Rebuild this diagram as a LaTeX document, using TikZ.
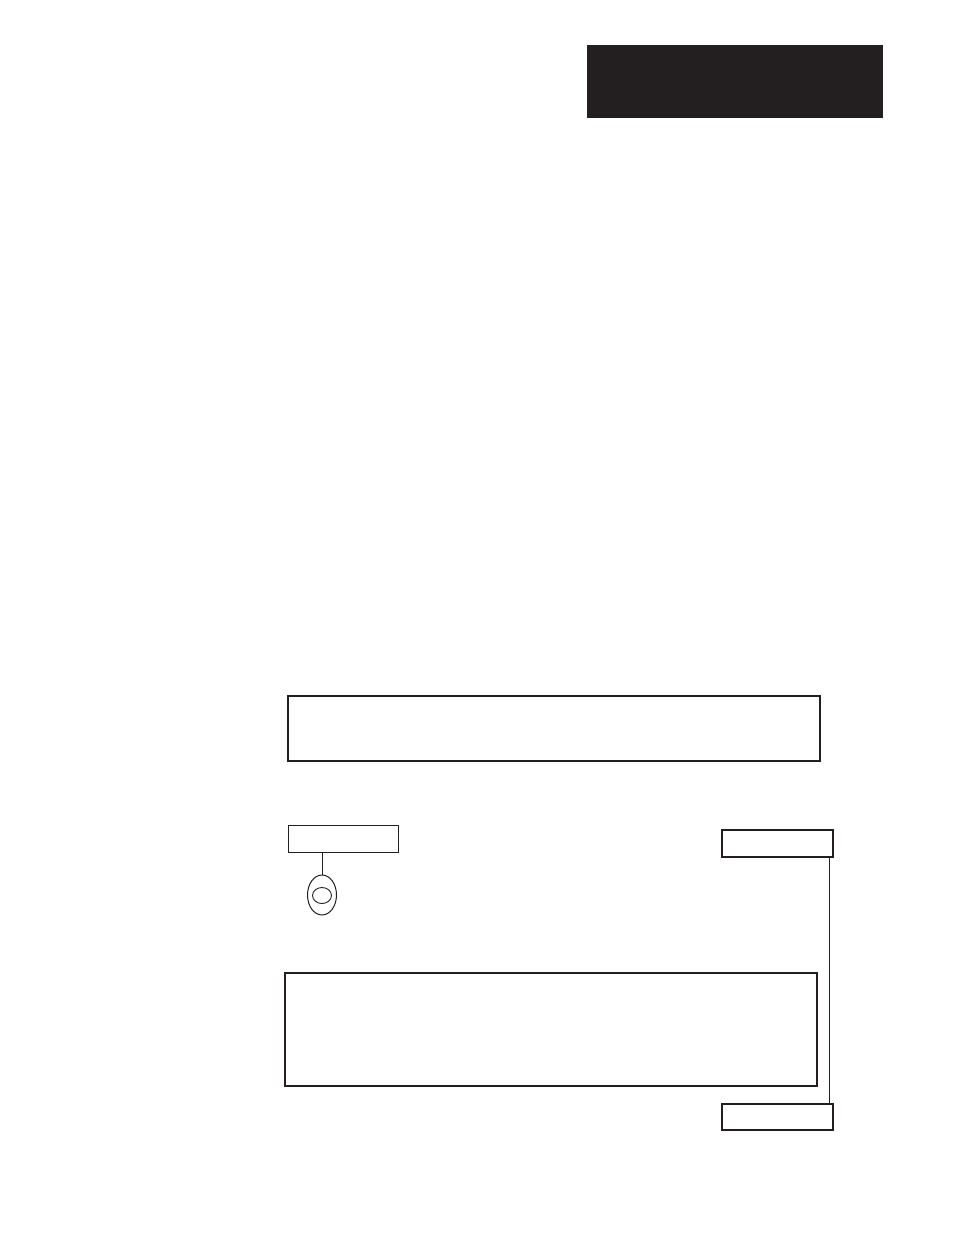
\documentclass[tikz,border=0pt]{standalone}
\usetikzlibrary{shapes.geometric}
\definecolor{ink}{HTML}{231F20}
\begin{document}
\begin{tikzpicture}[x=1pt,y=-1pt,
  thickbox/.style={draw=ink,line width=1.6pt},
  thinbox/.style={draw=ink,line width=1pt},
  wire/.style={draw=ink,line width=1pt}]
\useasboundingbox (0,0) rectangle (954,1235);
\fill[ink] (587,45) rectangle (883,118);
\draw[thickbox] (288,696) rectangle (820,761);
\draw[thinbox] (288,825) rectangle (398,852);
\coordinate (astem) at (322,852);
\node[draw=ink,line width=1pt,ellipse,minimum width=29pt,minimum height=40pt,inner sep=0pt] (knob) at (322,895) {};
\draw[ink,line width=0.9pt] (322,895.5) ellipse [x radius=9.5, y radius=8];
\draw[wire] (astem) -- (knob.north);
\draw[thickbox] (722,830) rectangle (833,857);
\draw[thickbox] (285,973) rectangle (817,1086);
\draw[thickbox] (722,1104) rectangle (833,1130);
\coordinate (ltop) at (829,857);
\coordinate (lbot) at (829,1104);
\draw[wire] (ltop) -- (lbot);
\end{tikzpicture}
\end{document}
